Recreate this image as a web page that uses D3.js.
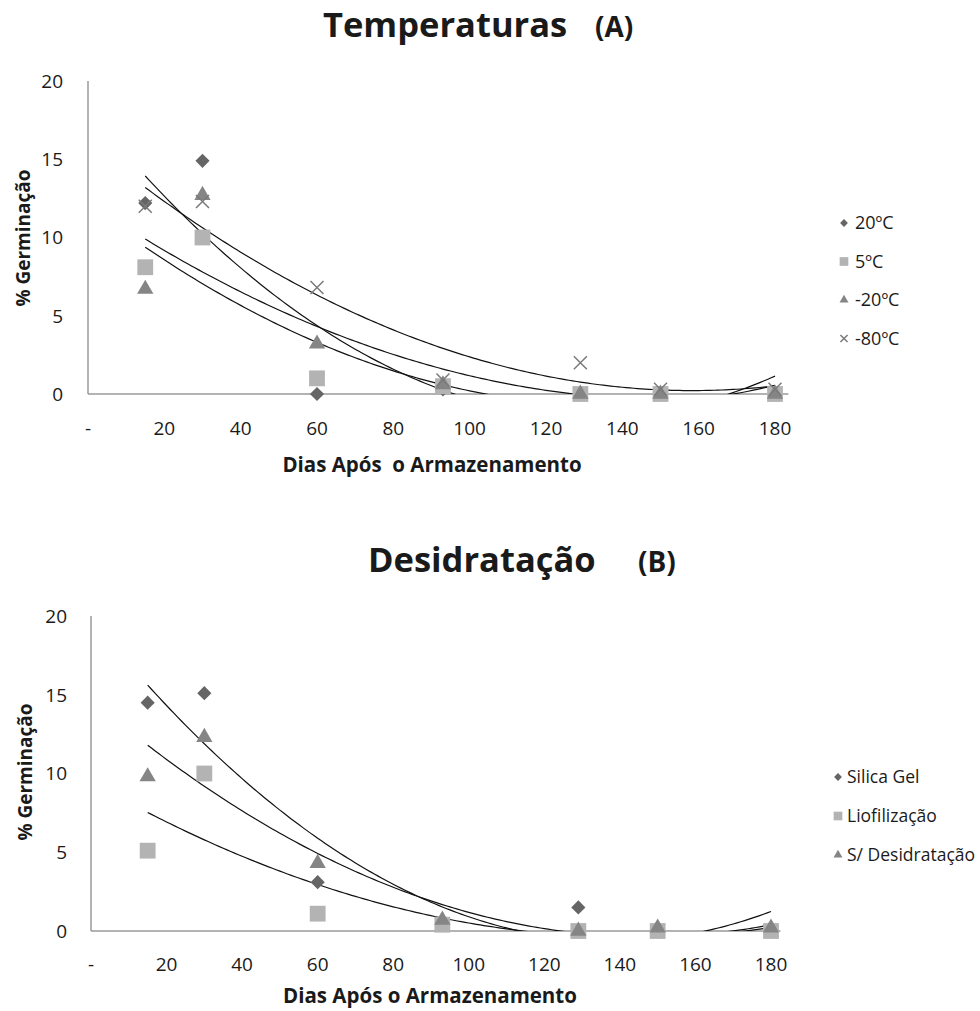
<!DOCTYPE html>
<html lang="pt">
<head>
<meta charset="UTF-8" />
<title>Germinação</title>
<script src="https://d3js.org/d3.v7.min.js"></script>
<style>
  body { margin: 0; background: #fff; }
  text { font-family: "Open Sans", Lato, sans-serif; fill: #1a1a1a; }
  .axis-line { stroke: #9a9a9a; stroke-width: 1.5; }
  .trend { fill: none; stroke: #111; stroke-width: 1.2; }
</style>
</head>
<body>
<svg width="980" height="1011"></svg>
<script>
// days after storage
const days = [15, 30, 60, 93, 129, 150, 180];
const xTicks = [0, 20, 40, 60, 80, 100, 120, 140, 160, 180];
const yTicks = [0, 5, 10, 15, 20];

// (A) temperatures
const tempNames = ["20ºC", "5ºC", "-20ºC", "-80ºC"];
const t20 = [12.2, 14.9, 0, 0.3, 0, 0, 0];
const t5 = [8.1, 10, 1, 0.5, 0, 0, 0];
const tMinus20 = [6.7, 12.7, 3.2, 0.6, 0, 0, 0];
const tMinus80 = [12, 12.3, 6.8, 0.9, 2, 0.3, 0.3];

// (B) dehydration
const desNames = ["Silica Gel", "Liofilização", "S/ Desidratação"];
const silica = [14.5, 15.1, 3.1, 0.5, 1.5, 0.2, 0.2];
const liof = [5.1, 10, 1.1, 0.4, 0, 0, 0];
const semDes = [9.8, 12.3, 4.3, 0.7, 0, 0.2, 0.2];

const markers = ["diamond", "square", "triangle", "cross"];
const markerFill = { diamond: "#656565", square: "#b3b3b3", triangle: "#858585", cross: "none" };

const svg = d3.select("svg");

// quadratic least squares (Excel polynomial trendline, order 2)
function polyFit(xs, ys) {
  let s = [0, 0, 0, 0, 0], t = [0, 0, 0];
  xs.forEach((x, i) => {
    for (let k = 0; k < 5; k++) s[k] += Math.pow(x, k);
    for (let k = 0; k < 3; k++) t[k] += ys[i] * Math.pow(x, k);
  });
  const A = [[s[0], s[1], s[2], t[0]], [s[1], s[2], s[3], t[1]], [s[2], s[3], s[4], t[2]]];
  for (let i = 0; i < 3; i++) {
    for (let j = i + 1; j < 3; j++) {
      const f = A[j][i] / A[i][i];
      for (let k = i; k < 4; k++) A[j][k] -= f * A[i][k];
    }
  }
  const c = [0, 0, 0];
  for (let i = 2; i >= 0; i--) {
    let v = A[i][3];
    for (let k = i + 1; k < 3; k++) v -= A[i][k] * c[k];
    c[i] = v / A[i][i];
  }
  return x => c[0] + c[1] * x + c[2] * x * x;
}

function markerPath(type, big) {
  const k = big ? 1 : 0.55;
  if (type === "diamond") return d3.symbol(d3.symbolSquare, 100 * k * k)();
  if (type === "square") return d3.symbol(d3.symbolSquare, 250 * k * k)();
  if (type === "triangle") return d3.symbol(d3.symbolTriangle, 115 * k * k)();
  const r = 6.5 * k;
  return `M${-r},${-r}L${r},${r}M${-r},${r}L${r},${-r}`;
}

function drawMarker(g, type, x, y, big) {
  const p = g.append("path")
    .attr("d", markerPath(type, big))
    .attr("transform", `translate(${x},${y})` + (type === "diamond" ? " rotate(45)" : ""));
  if (type === "cross") p.attr("fill", "none").attr("stroke", "#7a7a7a").attr("stroke-width", 1.5);
  else p.attr("fill", markerFill[type]);
}

function drawChart(cfg) {
  const x = d3.scaleLinear().domain([0, 180]).range([cfg.x0, cfg.x180]);
  const y = d3.scaleLinear().domain([0, 20]).range([cfg.y0, cfg.y20]);
  const g = svg.append("g");

  // titles
  g.append("text").attr("x", cfg.titleX).attr("y", cfg.titleY)
    .attr("font-weight", "bold").attr("font-size", 34.5).text(cfg.title);
  g.append("text").attr("x", cfg.tagX).attr("y", cfg.titleY)
    .attr("font-weight", "bold").attr("font-size", 28).text(cfg.tag);

  // axes (no tick marks, only labels)
  g.append("line").attr("class", "axis-line")
    .attr("x1", x(0)).attr("x2", x(cfg.xEnd)).attr("y1", y(0)).attr("y2", y(0));
  g.append("line").attr("class", "axis-line")
    .attr("x1", x(0)).attr("x2", x(0)).attr("y1", y(0)).attr("y2", y(20));

  g.selectAll(".ytick").data(yTicks).join("text")
    .attr("x", cfg.yLabelX).attr("y", d => y(d)).attr("dy", "0.36em")
    .attr("text-anchor", "end").attr("font-size", 19).text(d => d);

  g.selectAll(".xtick").data(xTicks).join("text")
    .attr("x", d => x(d)).attr("y", y(0) + cfg.xLabelDy)
    .attr("text-anchor", "middle").attr("font-size", 19)
    .text(d => d === 0 ? "-" : d);

  g.append("text").attr("transform", `translate(${cfg.yTitleX},${cfg.yTitleY}) rotate(-90)`)
    .attr("text-anchor", "middle").attr("font-weight", "bold").attr("font-size", 19)
    .text("% Germinação");
  g.append("text").attr("x", cfg.xTitleX).attr("y", cfg.xTitleY)
    .attr("text-anchor", "middle").attr("font-weight", "bold").attr("font-size", 20.5)
    .style("white-space", "pre")
    .text(cfg.xTitle);

  // trendlines, clipped to the plot area
  const clipId = "clip" + cfg.tag.replace(/\W/g, "");
  g.append("clipPath").attr("id", clipId).append("rect")
    .attr("x", x(0)).attr("y", y(20)).attr("width", x(cfg.xEnd) - x(0)).attr("height", y(0) - y(20));
  const tg = g.append("g").attr("clip-path", `url(#${clipId})`);
  const line = d3.line().x(d => x(d[0])).y(d => y(d[1]));
  cfg.series.forEach(vals => {
    const f = polyFit(days, vals);
    const pts = d3.range(days[0], days[days.length - 1] + 0.01, 1).map(d => [d, f(d)]);
    tg.append("path").attr("class", "trend").attr("d", line(pts));
  });

  // points
  cfg.series.forEach((vals, si) => {
    vals.forEach((v, i) => drawMarker(g, markers[si], x(days[i]), y(v), true));
  });

  // legend
  cfg.names.forEach((n, i) => {
    const ly = cfg.legY + i * cfg.legStep;
    drawMarker(g, markers[i], cfg.legX, ly, false);
    g.append("text").attr("x", cfg.legX + cfg.legTextDx).attr("y", ly).attr("dy", "0.36em")
      .attr("font-size", cfg.legFont).text(n);
  });
}

drawChart({
  title: "Temperaturas", tag: "(A)", titleX: 323, tagX: 595, titleY: 37,
  x0: 88, x180: 775, xEnd: 183.5, y0: 394, y20: 81,
  yLabelX: 63, xLabelDy: 41, yTitleX: 30, yTitleY: 238,
  xTitle: "Dias Após  o Armazenamento", xTitleX: 432, xTitleY: 472,
  series: [t20, t5, tMinus20, tMinus80], names: tempNames,
  legX: 844, legY: 223, legStep: 38.5, legTextDx: 11, legFont: 18
});

drawChart({
  title: "Desidratação", tag: "(B)", titleX: 368, tagX: 638, titleY: 572,
  x0: 91, x180: 771, xEnd: 182.5, y0: 931, y20: 616,
  yLabelX: 67, xLabelDy: 40, yTitleX: 32, yTitleY: 772,
  xTitle: "Dias Após o Armazenamento", xTitleX: 430, xTitleY: 1003,
  series: [silica, liof, semDes], names: desNames,
  legX: 838, legY: 777, legStep: 39, legTextDx: 9, legFont: 17.5
});
</script>
</body>
</html>
